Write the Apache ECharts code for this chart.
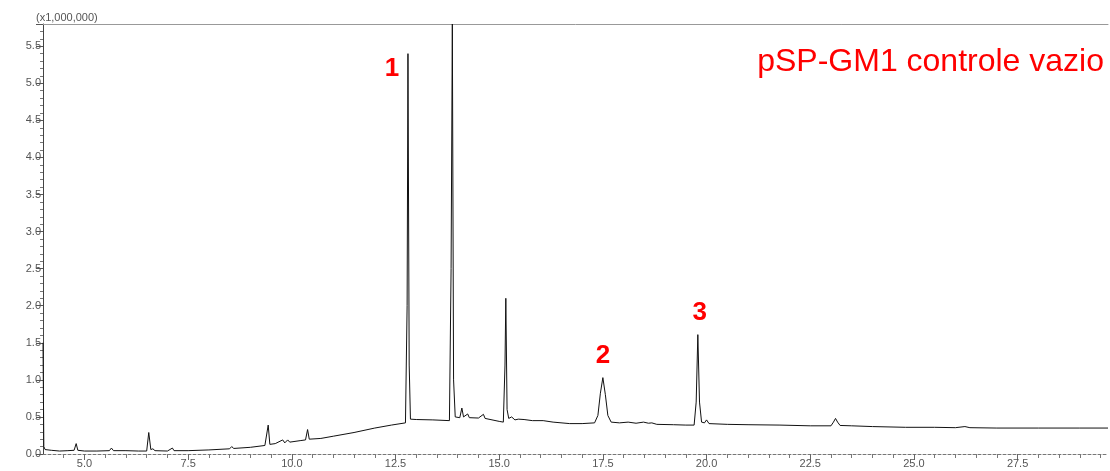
<!DOCTYPE html>
<html>
<head>
<meta charset="utf-8">
<script src="https://cdn.jsdelivr.net/npm/echarts@6/dist/echarts.min.js"></script>
<style>
  html, body { margin: 0; padding: 0; background: #fff; }
  #chart { width: 1110px; height: 471px; }
</style>
</head>
<body>
<div id="chart"></div>
<script>
// retention time (min) and intensity (x1,000,000)
const retTime = [
  4.00, 4.02, 4.05, 4.2, 4.4, 4.6, 4.75, 4.80, 4.84, 5.0, 5.3, 5.6, 5.65, 5.7, 6.0, 6.3, 6.5,
  6.55, 6.60, 6.65, 6.7, 7.0, 7.12, 7.16, 7.5, 8.0, 8.5, 8.55, 8.6, 9.0, 9.35, 9.43, 9.47,
  9.6, 9.78, 9.83, 9.9, 9.95, 10.2, 10.33, 10.38, 10.42, 10.7, 11.0, 11.5, 12.0, 12.4,
  12.74, 12.78, 12.80, 12.83, 12.86, 13.0, 13.4, 13.8, 13.84, 13.87, 13.90, 13.94, 14.05,
  14.10, 14.14, 14.24, 14.28, 14.5, 14.62, 14.66, 15.0, 15.1, 15.14, 15.16, 15.19, 15.23,
  15.30, 15.38, 15.46, 15.6, 15.8, 16.06, 16.3, 16.7, 17.0, 17.3, 17.38, 17.44, 17.50,
  17.56, 17.62, 17.7, 17.9, 18.11, 18.15, 18.3, 18.48, 18.6, 18.68, 18.8, 19.2, 19.5,
  19.7, 19.75, 19.79, 19.83, 19.88, 19.95, 20.0, 20.06, 20.5, 21.0, 21.77, 22.5, 23.0,
  23.06, 23.11, 23.16, 23.22, 23.5, 24.0, 24.8, 25.5, 26.0, 26.23, 26.35, 27.0, 28.0,
  29.0, 29.68
]
const intensity = [
  1.50, 0.10, 0.06, 0.05, 0.04, 0.045, 0.05, 0.14, 0.05, 0.04, 0.04, 0.045, 0.08, 0.045, 0.045, 0.04, 0.04,
  0.29, 0.06, 0.07, 0.045, 0.04, 0.08, 0.045, 0.045, 0.055, 0.07, 0.10, 0.075, 0.09, 0.115, 0.39, 0.13,
  0.14, 0.19, 0.15, 0.19, 0.16, 0.18, 0.19, 0.33, 0.20, 0.21, 0.24, 0.29, 0.35, 0.39,
  0.42, 2.0, 5.40, 1.2, 0.47, 0.465, 0.46, 0.45, 2.5, 5.80, 1.0, 0.50, 0.49,
  0.62, 0.50, 0.54, 0.49, 0.485, 0.535, 0.48, 0.44, 0.43, 1.2, 2.10, 0.6, 0.48,
  0.50, 0.46, 0.47, 0.465, 0.45, 0.45, 0.43, 0.41, 0.41, 0.42, 0.52, 0.82, 1.03,
  0.80, 0.52, 0.43, 0.42, 0.43, 0.41, 0.415, 0.43, 0.415, 0.42, 0.40, 0.395, 0.39,
  0.39, 0.7, 1.61, 0.7, 0.43, 0.42, 0.46, 0.41, 0.40, 0.395, 0.39, 0.38, 0.38,
  0.43, 0.48, 0.43, 0.385, 0.38, 0.37, 0.36, 0.36, 0.355, 0.37, 0.355, 0.35, 0.35,
  0.35, 0.35
]
const xLabels = [5.0, 7.5, 10.0, 12.5, 15.0, 17.5, 20.0, 22.5, 25.0, 27.5]
const xMinor = [4.5, 5.5, 6.0, 6.5, 7.0, 8.0, 8.5, 9.0, 9.5, 10.5, 11.0, 11.5, 12.0, 13.0, 13.5,
  14.0, 14.5, 15.5, 16.0, 16.5, 17.0, 18.0, 18.5, 19.0, 19.5, 20.5, 21.0, 21.5, 22.0, 23.0,
  23.5, 24.0, 24.5, 25.5, 26.0, 26.5, 27.0, 28.0, 28.5, 29.0, 29.5]
// peak numbers: [time, height, label]
const peakMarks = [[12.80, 5.40, '1'], [17.50, 1.03, '2'], [19.79, 1.61, '3']]
const sampleName = 'pSP-GM1 controle vazio'

const font = '"Liberation Sans", Arial, sans-serif'
const xMin = 4.0
const xMax = 29.68

let myChart = echarts.init(document.getElementById('chart'))
let labelOffsets = [[-16, 15], [0, -22], [2, -22]]
let option = {
  animation: false,
  title: {
    text: sampleName,
    right: 1,
    top: 41,
    textStyle: { color: '#ff0000', fontSize: 32, fontWeight: 'normal', fontFamily: font }
  },
  graphic: [{
    type: 'text',
    left: 36,
    top: 12,
    style: { text: '(x1,000,000)', fill: '#555', font: '11px ' + font }
  }],
  grid: { left: 43, right: 2, top: 24, bottom: 17 },
  xAxis: [
    {
      type: 'value',
      min: xMin,
      max: xMax,
      splitLine: { show: false },
      axisLine: { lineStyle: { color: '#777', type: [3, 2], width: 1 } },
      axisTick: { show: true, length: 6, customValues: xLabels, lineStyle: { color: '#666' } },
      axisLabel: {
        customValues: xLabels,
        color: '#555',
        fontSize: 11,
        fontFamily: font,
        margin: 4,
        formatter: v => v.toFixed(1)
      }
    },
    {
      type: 'value',
      min: xMin,
      max: xMax,
      position: 'bottom',
      splitLine: { show: false },
      axisLine: { show: false },
      axisTick: { show: true, length: 4, customValues: xMinor, lineStyle: { color: '#777' } },
      axisLabel: { show: false }
    },
    {
      type: 'value',
      min: xMin,
      max: xMax,
      position: 'top',
      splitLine: { show: false },
      axisLine: { lineStyle: { color: '#999', width: 1 } },
      axisTick: { show: false },
      axisLabel: { show: false }
    }
  ],
  yAxis: {
    type: 'value',
    min: 0,
    max: 5.8,
    interval: 0.5,
    splitLine: { show: false },
    axisLine: { show: true, lineStyle: { color: '#444', width: 1 } },
    axisTick: { show: true, length: 7, lineStyle: { color: '#555' } },
    minorTick: { show: true, splitNumber: 5, length: 3, lineStyle: { color: '#777' } },
    axisLabel: {
      color: '#555',
      fontSize: 11,
      fontFamily: font,
      margin: 2,
      showMaxLabel: false,
      formatter: v => v.toFixed(1)
    }
  },
  series: [
    {
      name: 'TIC',
      type: 'line',
      xAxisIndex: 0,
      data: retTime.map((t, i) => [t, intensity[i]]),
      showSymbol: false,
      symbol: 'none',
      lineStyle: { color: '#111', width: 1 },
      silent: true,
      markPoint: {
        symbol: 'circle',
        symbolSize: 0,
        silent: true,
        data: peakMarks.map((p, i) => ({
          coord: [p[0], p[1]],
          value: p[2],
          label: {
            show: true,
            position: 'inside',
            offset: labelOffsets[i],
            formatter: p[2],
            color: '#ff0000',
            fontSize: 26,
            fontWeight: 'bold',
            fontFamily: font
          }
        }))
      }
    }
  ]
}
myChart.setOption(option)
window.addEventListener('resize', function() {
  myChart.resize()
})
</script>
</body>
</html>
